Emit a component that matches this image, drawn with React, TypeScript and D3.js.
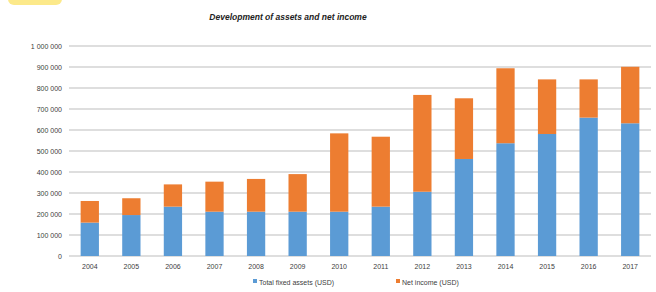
import React, { useEffect, useRef } from 'react';
import * as d3 from 'd3';

const years = ['2004', '2005', '2006', '2007', '2008', '2009', '2010', '2011', '2012', '2013', '2014', '2015', '2016', '2017'];
const fixedAssets = [159000, 195000, 235000, 211000, 211000, 211000, 211000, 235000, 306000, 462000, 537000, 581000, 659000, 632000];
const netIncome = [103000, 80000, 106000, 143000, 156000, 179000, 373000, 333000, 461000, 289000, 357000, 260000, 182000, 269000];
const yTicks = [0, 100000, 200000, 300000, 400000, 500000, 600000, 700000, 800000, 900000, 1000000];
const seriesNames = ['Total fixed assets (USD)', 'Net income (USD)'];
const colors = ['#5b9bd5', '#ed7d31'];

export default function App() {
  const ref = useRef<SVGSVGElement>(null);

  useEffect(() => {
    const svg = d3.select(ref.current);
    svg.selectAll('*').remove();

    const width = 656, height = 292;
    const margin = { top: 46, right: 5, bottom: 36, left: 69 };
    const w = width - margin.left - margin.right;
    const h = height - margin.top - margin.bottom;

    // yellow blob cut off at top left
    svg.append('rect')
      .attr('x', 8).attr('y', -10).attr('width', 54).attr('height', 15)
      .attr('rx', 6).attr('fill', '#fce98a');

    svg.append('text')
      .attr('x', 288).attr('y', 20)
      .attr('text-anchor', 'middle')
      .attr('font-family', 'Liberation Sans, Arial, sans-serif')
      .attr('font-size', 8.5).attr('font-weight', 'bold').attr('font-style', 'italic')
      .attr('fill', '#222')
      .text('Development of assets and net income');

    const g = svg.append('g').attr('transform', `translate(${margin.left},${margin.top})`);

    const x = d3.scaleBand().domain(years).range([0, w]).paddingInner(0.56).paddingOuter(0.28);
    const y = d3.scaleLinear().domain([0, 1000000]).range([h, 0]);

    // gridlines
    g.selectAll('.grid').data(yTicks).enter().append('line')
      .attr('x1', 0).attr('x2', w)
      .attr('y1', d => y(d)).attr('y2', d => y(d))
      .attr('stroke', '#bdbdbd')
      .attr('stroke-width', 1);

    const fmt = (v: number) => d3.format(',')(v).replace(/,/g, ' ');
    g.selectAll('.ylab').data(yTicks).enter().append('text')
      .attr('x', -7).attr('y', d => y(d) + 2.5)
      .attr('text-anchor', 'end')
      .attr('font-family', 'Liberation Sans, Arial, sans-serif')
      .attr('font-size', 7).attr('fill', '#404040')
      .text(d => fmt(d));

    const stacked = d3.stack<any>().keys(['a', 'b'])(years.map((yr, i) => ({ yr, a: fixedAssets[i], b: netIncome[i] })));

    g.selectAll('.layer').data(stacked).enter().append('g')
      .attr('fill', (d, i) => colors[i])
      .selectAll('rect').data(d => d).enter().append('rect')
      .attr('x', d => x(d.data.yr) as number)
      .attr('width', x.bandwidth())
      .attr('y', d => y(d[1]))
      .attr('height', d => y(d[0]) - y(d[1]));

    g.selectAll('.xlab').data(years).enter().append('text')
      .attr('x', d => (x(d) as number) + x.bandwidth() / 2)
      .attr('y', h + 13)
      .attr('text-anchor', 'middle')
      .attr('font-family', 'Liberation Sans, Arial, sans-serif')
      .attr('font-size', 7).attr('fill', '#404040')
      .text(d => d);

    // legend
    const legX = [253, 396];
    seriesNames.forEach((name, i) => {
      svg.append('rect')
        .attr('x', legX[i]).attr('y', 279).attr('width', 4).attr('height', 4)
        .attr('fill', colors[i]);
      svg.append('text')
        .attr('x', legX[i] + 6).attr('y', 285)
        .attr('font-family', 'Liberation Sans, Arial, sans-serif')
        .attr('font-size', 7).attr('fill', '#404040')
        .text(name);
    });
  }, []);

  return (
    <svg ref={ref} width={656} height={292} style={{ position: 'absolute', left: 0, top: 0, background: '#fff' }} />
  );
}
